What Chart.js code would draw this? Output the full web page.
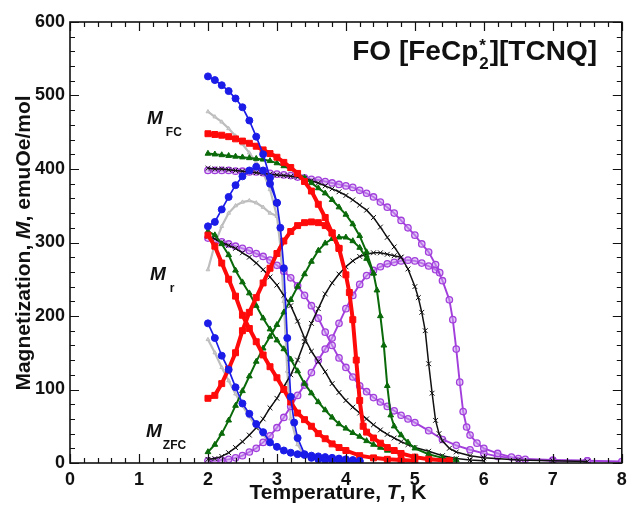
<!DOCTYPE html>
<html>
<head>
<meta charset="utf-8">
<script src="https://cdn.jsdelivr.net/npm/chart.js@4/dist/chart.umd.min.js"></script>
<style>
  html, body { margin: 0; padding: 0; background: #fff; }
  #wrap { width: 627px; height: 506px; position: relative; }
</style>
</head>
<body>
<div id="wrap"><canvas id="c" width="627" height="506"></canvas></div>
<script>
// ---------- DATA ----------
// shared temperature grid, K
const temps = [2.0,2.1,2.2,2.3,2.4,2.5,2.6,2.7,2.8,2.9,3.0,3.1,3.2,3.3,3.4,3.5,3.6,3.7,3.8,3.9,
               4.0,4.1,4.2,4.3,4.4,4.5,4.6,4.7,4.8,4.9,5.0,5.1,5.2,5.3,5.4,5.5];

// blue (filled circles)
const blueFC_T  = [2.0,2.1,2.2,2.3,2.4,2.5,2.6,2.7,2.8,2.9,3.0,3.05,3.1,3.15,3.2,3.25,3.3,3.4,3.5,3.6,3.7,3.8,3.9,4.0,4.1,4.2];
const blueFC_M  = [526,521,514,506,496,484,466,444,420,388,354,320,265,170,90,55,34,12,7,5,4,4,3,3,3,2];
const blueZFC_T = temps.slice(0, 11);
const blueZFC_M = [322,328,345,362,378,390,398,403,398,380,354];
const blueMr_T  = temps.slice(0, 23);
const blueMr_M  = [190,170,146,127,103,81,67,53,42,28,22,17,14,12,11,10,9,8,7,6,5,4,3];

// gray (small triangles)
const grayFC_T  = [2.0,2.1,2.2,2.3,2.4,2.5,2.6,2.7,2.8,2.9,3.0,3.05,3.1,3.15,3.2,3.3,3.4,3.6,3.8,4.0];
const grayFC_M  = [478,471,464,455,445,434,422,409,395,372,336,295,220,125,60,25,10,5,4,3];
const grayZFC_T = temps.slice(0, 11);
const grayZFC_M = [263,298,322,340,350,355,357,354,348,340,336];
const grayMr_T  = temps.slice(0, 17).concat([3.8, 4.0]);
const grayMr_M  = [168,150,130,112,94,78,63,50,38,28,21,16,13,11,9,8,7,5,4];

// red (filled squares)
const redFC_T  = temps.slice(0, 21).concat([4.05,4.1,4.15,4.2,4.25,4.3,4.4,4.5,4.6,4.7,4.8,5.0,5.2,5.5]);
const redFC_M  = [448,447,446,444,441,438,435,431,426,421,416,409,402,394,383,370,352,334,313,292,
                  256,232,195,140,85,50,42,34,27,21,17,13,8,5,3];
const redZFC_T = temps.slice(0, 20);
const redZFC_M = [88,92,108,128,150,180,205,225,245,265,285,302,315,323,327,328,327,323,313,292];
const redMr_T  = temps.slice(0, 21).concat([4.2,4.4,4.6,4.8,5.0]);
const redMr_M  = [310,295,272,250,227,201,183,165,147,131,116,100,83,68,59,50,40,33,26,21,17,10,7,5,4,3];

// green (filled triangles)
const greenFC_T  = temps.slice(0, 25).concat([4.45,4.5,4.55,4.6,4.65,4.7,4.8,4.9,5.0,5.2,5.4,5.6]);
const greenFC_M  = [421,420,419,418,417,416,415,414,413,411,408,404,400,394,388,381,374,367,358,348,
                    338,325,309,287,258,235,200,160,105,65,50,38,28,20,12,7,4];
const greenZFC_T = temps.slice(0, 25);
const greenZFC_M = [15,25,40,58,78,98,118,138,156,172,188,205,222,240,257,274,289,299,305,307,
                    307,302,293,278,258];
const greenMr_T  = temps.slice(0, 27).concat([4.8,5.0,5.2,5.5]);
const greenMr_M  = [315,310,298,283,262,246,231,214,197,182,167,155,141,125,108,95,83,72,62,53,
                    47,41,36,30,25,21,17,12,8,6,4];

// black (crosses)
const blackFC_T  = temps.slice(0, 31).concat([5.05,5.1,5.15,5.2,5.25,5.3,5.35,5.4,5.5,5.6,5.8,6.0,6.5,7.0,7.5]);
const blackFC_M  = [401,400,400,399,398,397,396,395,394,393,392,391,390,389,387,384,381,377,373,369,
                    364,358,351,344,334,321,307,294,280,264,240,225,205,180,135,95,58,40,30,20,15,10,7,4,3,2];
const blackZFC_T = temps.slice(0, 29);
const blackZFC_M = [5,6,9,14,21,29,38,48,60,75,88,104,120,140,165,190,210,230,245,257,
                    267,275,281,284,286,286,284,282,280];
const blackMr_T  = temps.slice(0, 31).concat([5.2,5.4,5.6,5.8,6.0]);
const blackMr_M  = [308,305,300,296,292,286,280,272,263,253,242,228,214,193,170,152,138,124,108,96,
                    85,76,68,60,52,45,39,34,29,25,21,16,10,6,4,3];

// purple (open circles)
const purpleFC_T  = temps.slice(0, 36).concat([5.55,5.6,5.65,5.7,5.75,5.8,5.9,6.0,6.2,6.4,6.6,7.0,7.5,8.0]);
const purpleFC_M  = [398,398,398,398,397,397,396,396,395,394,393,392,391,389,388,386,385,383,381,379,
                     377,375,371,367,362,355,348,340,330,320,310,298,287,270,248,222,
                     195,155,110,70,49,38,27,20,13,8,5,3,3,2];
const purpleZFC_T = temps.slice(0, 34).concat([5.36]);
const purpleZFC_M = [3,3,4,5,7,10,15,20,28,37,48,62,77,92,106,123,140,155,170,190,
                     210,228,243,255,262,267,271,273,275,276,275,272,268,263,259];
const purpleMr_T  = temps.slice(0, 31).concat([5.2,5.4,5.6,5.8,6.0,6.2,6.5,7.0,7.5]);
const purpleMr_M  = [306,304,301,298,295,292,289,285,281,276,269,261,252,241,228,214,197,178,160,143,
                     130,117,105,97,89,83,77,71,65,60,55,44,32,24,18,13,9,6,4,3];

// axes
const xTickLabels = ['0','1','2','3','4','5','6','7','8'];
const yTickLabels = ['0','100','200','300','400','500','600'];

// ---------- CHART ----------
const FONT = '"Liberation Sans", Arial, Helvetica, sans-serif';
const pts = (T, M) => T.map((t, i) => ({ x: t, y: M[i] }));

const styles = {
  blue:   { color: '#1c1ce8', fill: '#1c1ce8', pointStyle: 'circle',   r: 3.5, lw: 1.7, pbw: 1 },
  red:    { color: '#ff0a0a', fill: '#ff0a0a', pointStyle: 'rect',     r: 4.2, lw: 4.0, pbw: 1 },
  green:  { color: '#0a6a0a', fill: '#0a6a0a', pointStyle: 'triangle', r: 3.3, lw: 2.0, pbw: 1 },
  black:  { color: '#111111', fill: '#555555', pointStyle: 'crossRot', r: 3.4, lw: 1.5, pbw: 1 },
  purple: { color: '#a23fdc', fill: 'rgba(205,160,240,0.55)', pointStyle: 'circle', r: 3.2, lw: 1.9, pbw: 1.3 },
  gray:   { color: '#bdbdbd', fill: '#cfcfcf', pointStyle: 'triangle', r: 2.2, lw: 2.2, pbw: 1 }
};

function ds(label, T, M, key) {
  const s = styles[key];
  return {
    label, data: pts(T, M), showLine: true,
    borderColor: s.color, borderWidth: s.lw,
    pointStyle: s.pointStyle, pointRadius: s.r, pointHoverRadius: s.r,
    pointBackgroundColor: s.fill, pointBorderColor: s.color,
    pointBorderWidth: s.pbw,
    tension: 0
  };
}

const datasets = [
  ds('blue FC', blueFC_T, blueFC_M, 'blue'),
  ds('blue ZFC', blueZFC_T, blueZFC_M, 'blue'),
  ds('blue Mr', blueMr_T, blueMr_M, 'blue'),
  ds('red FC', redFC_T, redFC_M, 'red'),
  ds('red ZFC', redZFC_T, redZFC_M, 'red'),
  ds('red Mr', redMr_T, redMr_M, 'red'),
  ds('green FC', greenFC_T, greenFC_M, 'green'),
  ds('green ZFC', greenZFC_T, greenZFC_M, 'green'),
  ds('green Mr', greenMr_T, greenMr_M, 'green'),
  ds('black FC', blackFC_T, blackFC_M, 'black'),
  ds('black ZFC', blackZFC_T, blackZFC_M, 'black'),
  ds('black Mr', blackMr_T, blackMr_M, 'black'),
  ds('purple FC', purpleFC_T, purpleFC_M, 'purple'),
  ds('purple ZFC', purpleZFC_T, purpleZFC_M, 'purple'),
  ds('purple Mr', purpleMr_T, purpleMr_M, 'purple'),
  ds('gray FC', grayFC_T, grayFC_M, 'gray'),
  ds('gray ZFC', grayZFC_T, grayZFC_M, 'gray'),
  ds('gray Mr', grayMr_T, grayMr_M, 'gray')
];

function drawRuns(ctx, runs, x, y, align) {
  let total = 0;
  runs.forEach(r => { ctx.font = r.font; r.w = r.adv !== undefined ? r.adv : ctx.measureText(r.t).width; total += r.w; });
  let cx = align === 'right' ? x - total : (align === 'center' ? x - total / 2 : x);
  runs.forEach(r => { ctx.font = r.font; ctx.fillText(r.t, cx + (r.dx || 0), y + (r.dy || 0)); cx += r.w; });
}

const framePlugin = {
  id: 'frame',
  afterDatasetsDraw(chart) {
    const { ctx, chartArea: a, scales: { x, y } } = chart;
    ctx.save();
    ctx.strokeStyle = '#111';
    ctx.lineWidth = 1.6;
    ctx.strokeRect(a.left, a.top, a.right - a.left, a.bottom - a.top);
    ctx.lineWidth = 1.2;
    ctx.beginPath();
    for (let i = 0; i <= 40; i++) {
      const px = Math.round(x.getPixelForValue(i * 0.2)) + 0.5;
      const len = i % 5 === 0 ? 9 : 5;
      ctx.moveTo(px, a.bottom); ctx.lineTo(px, a.bottom - len);
      ctx.moveTo(px, a.top); ctx.lineTo(px, a.top + len);
    }
    for (let i = 0; i <= 30; i++) {
      const py = Math.round(y.getPixelForValue(i * 20)) + 0.5;
      const len = i % 5 === 0 ? 9 : 5;
      ctx.moveTo(a.left, py); ctx.lineTo(a.left + len, py);
      ctx.moveTo(a.right, py); ctx.lineTo(a.right - len, py);
    }
    ctx.stroke();
    ctx.restore();
  },
  afterDraw(chart) {
    const { ctx } = chart;
    ctx.save();
    ctx.fillStyle = '#111';
    ctx.textBaseline = 'alphabetic';
    // title
    const tf = 'bold 28px ' + FONT, tsf = 'bold 17px ' + FONT;
    ctx.font = tsf;
    const starW = ctx.measureText('*').width, twoW = ctx.measureText('2').width;
    drawRuns(ctx, [
      { t: 'FO [FeCp', font: tf },
      { t: '*', font: tsf, dy: -9, dx: 1, adv: 0 },
      { t: '2', font: tsf, dy: 9, dx: 1, adv: Math.max(starW, twoW) + 2 },
      { t: '][TCNQ]', font: tf }
    ], 597, 60, 'right');
    // curve labels
    const mf = 'bold italic 19px ' + FONT, sf = 'bold 12px ' + FONT;
    drawRuns(ctx, [{ t: 'M', font: mf }, { t: 'FC', font: sf, dy: 12, dx: 3 }], 147, 124, 'left');
    drawRuns(ctx, [{ t: 'M', font: mf }, { t: 'r', font: sf, dy: 12, dx: 4 }], 150, 280, 'left');
    drawRuns(ctx, [{ t: 'M', font: mf }, { t: 'ZFC', font: sf, dy: 12, dx: 1 }], 146, 437, 'left');
    // x axis title
    const af = 'bold 21px ' + FONT, aif = 'bold italic 21px ' + FONT;
    drawRuns(ctx, [{ t: 'Temperature, ', font: af }, { t: 'T', font: aif }, { t: ', K', font: af }], 338, 499, 'center');
    // y axis title
    ctx.translate(30, 243);
    ctx.rotate(-Math.PI / 2);
    drawRuns(ctx, [{ t: 'Magnetization, ', font: af }, { t: 'M', font: aif }, { t: ', emuOe/mol', font: af }], 0, 0, 'center');
    ctx.restore();
  }
};

new Chart(document.getElementById('c'), {
  type: 'scatter',
  data: { datasets },
  options: {
    responsive: false,
    animation: false,
    devicePixelRatio: 1,
    layout: { padding: { top: 22, right: 5, left: 0, bottom: 0 } },
    plugins: { legend: { display: false }, tooltip: { enabled: false } },
    scales: {
      x: {
        type: 'linear', min: 0, max: 8,
        grid: { display: false, drawTicks: false },
        border: { display: false },
        ticks: { stepSize: 1, padding: 6, color: '#111', maxRotation: 0, autoSkip: false,
                 font: { family: FONT, size: 18, weight: 'bold' },
                 callback: (v) => xTickLabels[v] },
        afterFit: (s) => { s.height = 43; s.paddingLeft = 0; s.paddingRight = 0; }
      },
      y: {
        type: 'linear', min: 0, max: 600,
        grid: { display: false, drawTicks: false },
        border: { display: false },
        ticks: { stepSize: 100, padding: 5, color: '#111', autoSkip: false,
                 font: { family: FONT, size: 18, weight: 'bold' },
                 callback: (v) => yTickLabels[v / 100] },
        afterFit: (s) => { s.width = 70; s.paddingTop = 0; s.paddingBottom = 0; }
      }
    }
  },
  plugins: [framePlugin]
});
</script>
</body>
</html>
